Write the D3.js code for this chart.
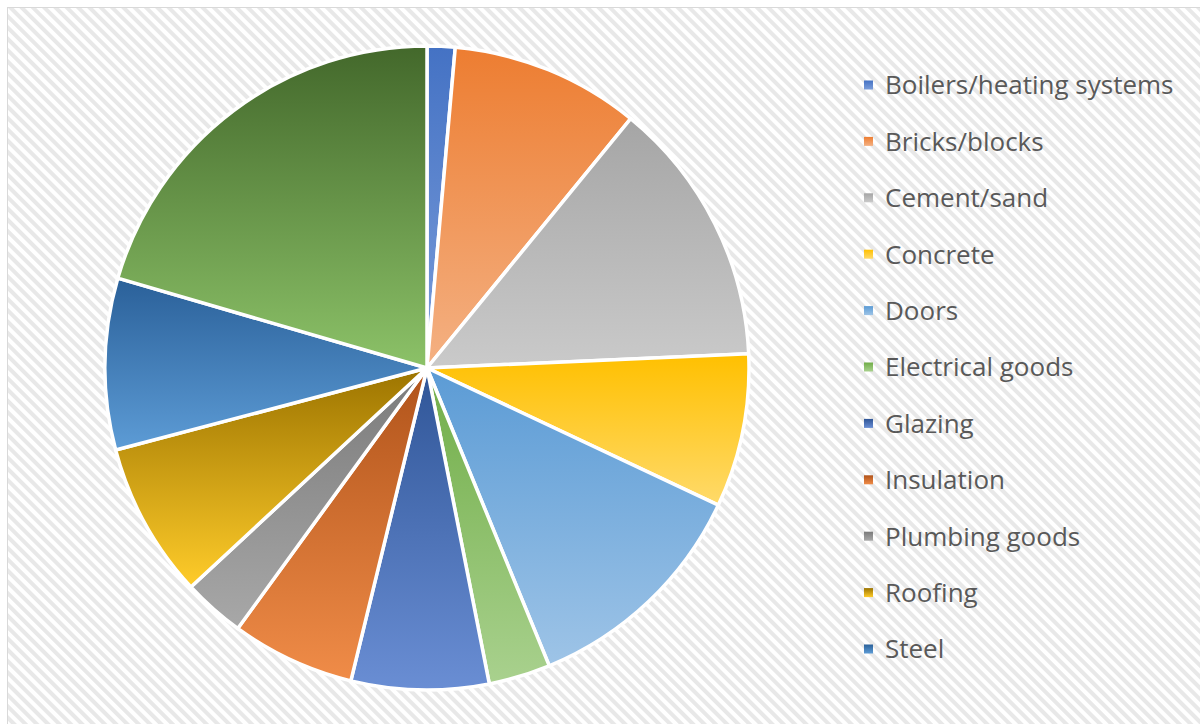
<!DOCTYPE html>
<html><head><meta charset="utf-8">
<script src="https://cdn.jsdelivr.net/npm/d3@7"></script>
<style>html,body{margin:0;padding:0;background:#fff;}svg{display:block;}</style>
</head><body>
<svg id="chart" width="1200" height="724"></svg>
<script>
const categories = ["Boilers/heating systems","Bricks/blocks","Cement/sand","Concrete","Doors","Electrical goods","Glazing","Insulation","Plumbing goods","Roofing","Steel","Timber"];
const values = [1.4, 9.5, 13.4, 7.7, 11.8, 3.1, 6.9, 6.2, 3.1, 7.8, 8.6, 20.5];
const legendCategories = categories.slice(0, 11);
const topColors = ["#4472C4","#ED7D31","#A5A5A5","#FFC000","#5B9BD5","#70AD47","#2F5597","#B0531A","#7A7A7A","#9C7400","#2A6099","#43682B"];
const bottomColors = ["#7B9DDA","#F4B183","#CACACA","#FFDA6A","#9EC4E7","#A9D18E","#6A8ED4","#F08C48","#A8A8A8","#FFCC2A","#5D9CD6","#8CC268"];

const svg = d3.select("#chart");
const defs = svg.append("defs");

const pat = defs.append("pattern").attr("id","stripes").attr("patternUnits","userSpaceOnUse")
  .attr("width",8).attr("height",8).attr("patternTransform","rotate(-45)");
pat.append("rect").attr("width",8).attr("height",8).attr("fill","#ffffff");
pat.append("rect").attr("width",4).attr("height",8).attr("fill","#e8e8e8");

svg.append("rect").attr("x",7.5).attr("y",7.5).attr("width",1200).attr("height",724)
  .attr("fill","url(#stripes)").attr("stroke","#d9d9d9").attr("stroke-width",1);

categories.forEach((c,i)=>{
  const g = defs.append("linearGradient").attr("id","g"+i).attr("x1",0).attr("y1",0).attr("x2",0).attr("y2",1);
  g.append("stop").attr("offset","0%").attr("stop-color",topColors[i]);
  g.append("stop").attr("offset","100%").attr("stop-color",bottomColors[i]);
});

const cx = 427, cy = 368, r = 322;
const pie = d3.pie().sort(null).value(d=>d);
const arc = d3.arc().innerRadius(0).outerRadius(r);
const arcs = pie(values);
const pg = svg.append("g").attr("transform",`translate(${cx},${cy})`);
pg.selectAll("path").data(arcs).join("path")
  .attr("d",arc)
  .attr("fill",(d,i)=>`url(#g${i})`)
  .attr("stroke","#ffffff").attr("stroke-width",3.5).attr("stroke-linejoin","round");

const lg = svg.append("g");
const y0 = 85, dy = 56.4;
const items = lg.selectAll("g").data(legendCategories).join("g")
  .attr("transform",(d,i)=>`translate(864,${y0+i*dy})`);
items.append("rect").attr("x",0).attr("y",-4.5).attr("width",9).attr("height",9)
  .attr("fill",(d,i)=>`url(#g${i})`);
items.append("text").attr("x",21).attr("y",0).attr("dy","0.36em")
  .attr("font-family","'Open Sans', sans-serif").attr("font-size",26)
  .attr("fill","#595959").text(d=>d);
</script>
</body></html>
